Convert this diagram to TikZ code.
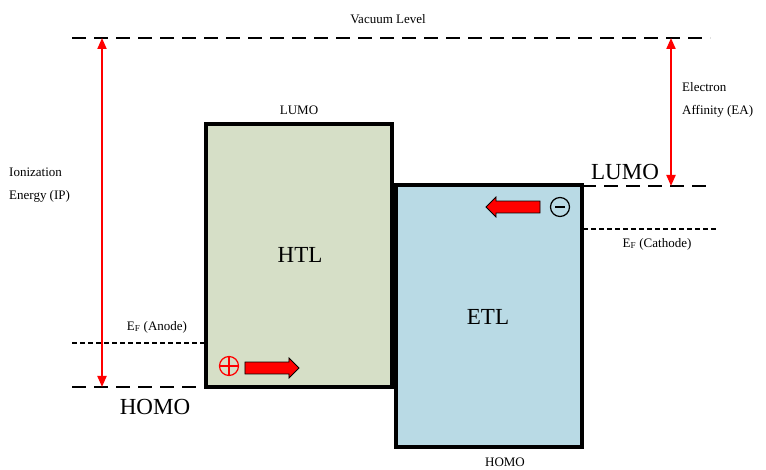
\documentclass[tikz,border=0pt]{standalone}
\usepackage{fontspec}
\setmainfont{Liberation Serif}
\usetikzlibrary{arrows.meta,shapes.arrows}
\definecolor{htlgreen}{RGB}{214,223,199}
\definecolor{etlblue}{RGB}{185,218,229}

\begin{document}
\begin{tikzpicture}[x=1pt, y=-1pt]
\tikzset{
  level/.style={line width=2.8pt, dash pattern=on 14pt off 8pt},
  fermi/.style={line width=1.1pt, dash pattern=on 5pt off 3pt},
  layer/.style={draw, line width=3.2pt},
  gap/.style={red, line width=2pt, {Triangle[width=9pt,length=11pt]}-{Triangle[width=9pt,length=11pt]}},
  flow/.style={single arrow, draw=black, fill=red, line width=0.8pt, minimum height=54pt, minimum width=20pt,
    single arrow head extend=4pt, single arrow tip angle=90, inner xsep=0pt, inner ysep=5.5pt},
  lbl/.style={font=\fontsize{13}{23}\selectfont, inner sep=1pt},
  big/.style={font=\fontsize{23}{26}\selectfont, inner sep=1pt}
}
\useasboundingbox (0,0) rectangle (766,470);
% layers
\fill[htlgreen] (206,124) rectangle (392,387);
\fill[etlblue] (396,185) rectangle (582,447);
\draw[layer] (206,124) rectangle (392,387);
\draw[layer] (396,185) rectangle (582,447);
\node[big] (htl) at (300,255) {HTL};
\node[big] (etl) at (488,317) {ETL};
% energy levels
\coordinate (vacL) at (72,38);   \coordinate (vacR) at (710,38);
\coordinate (homoL) at (72,387); \coordinate (homoR) at (206,387);
\coordinate (lumoL) at (582,186); \coordinate (lumoR) at (710,186);
\coordinate (anodeL) at (72,343); \coordinate (anodeR) at (204,343);
\coordinate (cathL) at (583,229); \coordinate (cathR) at (718,229);
\draw[level] (vacL) -- (vacR);
\draw[level] (homoL) -- (homoR);
\draw[level] (lumoL) -- (lumoR);
\draw[fermi] (anodeL) -- (anodeR);
\draw[fermi] (cathL) -- (cathR);
\node[lbl] (vac) at (388,19) {Vacuum Level};
\node[lbl] (lumohtl) at (299,110) {LUMO};
\node[lbl] (homoetl) at (505,462) {HOMO};
\node[big] (lumo) at (625,172) {LUMO};
\node[big] (homo) at (155,407) {HOMO};
\node[lbl] (efa) at (157,327) {E\textsubscript{F} (Anode)};
\node[lbl] (efc) at (657,244) {E\textsubscript{F} (Cathode)};
% gaps
\coordinate (ipT) at (102,38);  \coordinate (ipB) at (102,387);
\coordinate (eaT) at (671,38);  \coordinate (eaB) at (671,186);
\draw[gap] (ipT) -- (ipB);
\draw[gap] (eaT) -- (eaB);
\node[lbl, align=left, anchor=west] (ip) at (8,185) {Ionization\\Energy (IP)};
\node[lbl, align=left, anchor=west] (ea) at (681,100) {Electron\\Affinity (EA)};
% carriers
\node[circle, draw=red, line width=1.2pt, minimum size=19pt, inner sep=0pt] (hole) at (229,366) {};
\draw[red, line width=1.2pt] (hole.north) -- (hole.south) (hole.west) -- (hole.east);
\node[flow] (hflow) at (269,368) {};
\node[circle, draw, line width=1.2pt, minimum size=19pt, inner sep=0pt] (elec) at (560,207) {};
\draw[line width=1.2pt] ([xshift=-5pt]elec.center) -- ([xshift=5pt]elec.center);
\node[flow, shape border rotate=180] (eflow) at (516,207) {};
\end{tikzpicture}
\end{document}
